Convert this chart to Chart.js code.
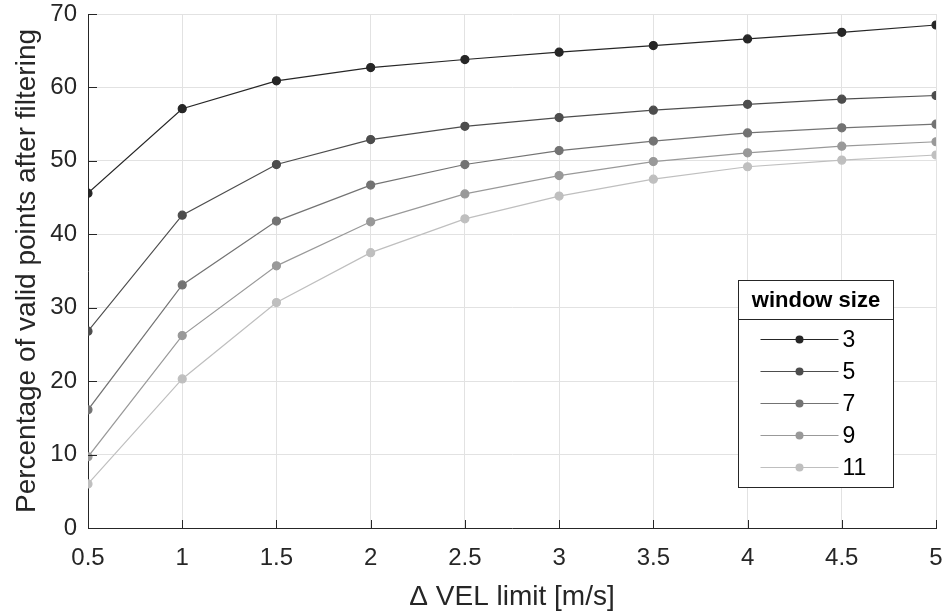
<!DOCTYPE html>
<html>
<head>
<meta charset="utf-8">
<script src="https://cdn.jsdelivr.net/npm/chart.js@4.4.1/dist/chart.umd.min.js"></script>
<style>
html,body{margin:0;padding:0;background:#fff}
#wrap{width:948px;height:611px;position:relative}
</style>
</head>
<body>
<div id="wrap"><canvas id="chart"></canvas></div>
<script>
// data
const xVals=[0.5,1,1.5,2,2.5,3,3.5,4,4.5,5];
const windowSizes=["3","5","7","9","11"];
const w3 =[45.6,57.1,60.9,62.7,63.8,64.8,65.7,66.6,67.5,68.5];
const w5 =[26.8,42.6,49.5,52.9,54.7,55.9,56.9,57.7,58.4,58.9];
const w7 =[16.1,33.1,41.8,46.7,49.5,51.4,52.7,53.8,54.5,55.0];
const w9 =[9.7,26.2,35.7,41.7,45.5,48.0,49.9,51.1,52.0,52.6];
const w11=[6.0,20.3,30.7,37.5,42.1,45.2,47.5,49.2,50.1,50.8];
const series=[w3,w5,w7,w9,w11];
const colors=["#262626","#4d4d4d","#737373","#999999","#bfbfbf"];

const FONT='"Liberation Sans", Arial, sans-serif';
const ink="#262626";

const datasets=series.map((s,k)=>({
  label:windowSizes[k],
  data:s.map((v,i)=>({x:xVals[i],y:v})),
  borderColor:colors[k],backgroundColor:colors[k],
  pointBackgroundColor:colors[k],pointBorderColor:colors[k],
  borderWidth:1.2,pointRadius:4,pointHoverRadius:4,tension:0
}));

// inward tick marks (matlab style) + boxed legend with title
const extras={id:"extras",
  afterDatasetsDraw(c){
    const g=c.ctx,a=c.chartArea,xs=c.scales.x,ys=c.scales.y;
    g.save();
    g.strokeStyle=ink;g.lineWidth=1;
    xs.ticks.forEach(t=>{const px=Math.round(xs.getPixelForValue(t.value))+0.5;
      g.beginPath();g.moveTo(px,a.bottom);g.lineTo(px,a.bottom-8);g.stroke();});
    ys.ticks.forEach(t=>{const py=Math.round(ys.getPixelForValue(t.value))+0.5;
      g.beginPath();g.moveTo(a.left,py);g.lineTo(a.left+9,py);g.stroke();});
    // legend
    const bw=155,bh=207,bx=Math.round(a.right-43-bw)+0.5,by=Math.round(a.bottom-41-bh)+0.5;
    g.fillStyle="#fff";g.fillRect(bx,by,bw,bh);
    g.strokeStyle=ink;g.lineWidth=1;g.strokeRect(bx,by,bw,bh);
    g.beginPath();g.moveTo(bx,by+39);g.lineTo(bx+bw,by+39);g.stroke();
    g.fillStyle="#000";g.font="bold 22px "+FONT;g.textAlign="center";g.textBaseline="middle";
    g.fillText("window size",bx+bw/2,by+20);
    g.font="23px "+FONT;g.textAlign="left";
    c.data.datasets.forEach((d,k)=>{
      const ly=by+59+k*32;
      g.strokeStyle=d.borderColor;g.lineWidth=1.2;
      g.beginPath();g.moveTo(bx+22,ly);g.lineTo(bx+100,ly);g.stroke();
      g.fillStyle=d.pointBackgroundColor;g.beginPath();g.arc(bx+61,ly,4,0,Math.PI*2);g.fill();
      g.fillStyle="#000";g.fillText(d.label,bx+104,ly+1);
    });
    g.restore();
  }};

new Chart(document.getElementById("chart"),{
  type:"line",
  data:{datasets},
  plugins:[extras],
  options:{
    responsive:true,maintainAspectRatio:false,animation:false,
    layout:{padding:{left:0,right:12,top:14,bottom:0}},
    plugins:{legend:{display:false},tooltip:{enabled:false}},
    scales:{
      x:{type:"linear",min:0.5,max:5,
        afterFit(s){s.height=83;s.paddingLeft=0;s.paddingRight=0;},
        ticks:{stepSize:0.5,color:ink,font:{family:FONT,size:24},padding:16,maxRotation:0,autoSkip:false,
          callback:v=>String(v)},
        grid:{color:"#e2e2e2",drawTicks:false},
        border:{color:ink,width:1},
        title:{display:true,text:"\u0394 VEL limit [m/s]",color:ink,font:{family:FONT,size:28},padding:{top:0,bottom:-3}}},
      y:{min:0,max:70,
        afterFit(s){s.width=88;s.paddingTop=0;s.paddingBottom=0;},
        ticks:{stepSize:10,color:ink,font:{family:FONT,size:24},padding:11},
        grid:{color:"#e2e2e2",drawTicks:false},
        border:{color:ink,width:1},
        title:{display:true,text:"Percentage of valid points after filtering",color:ink,font:{family:FONT,size:28},padding:{top:10,bottom:0}}}
    }
  }
});
</script>
</body>
</html>
